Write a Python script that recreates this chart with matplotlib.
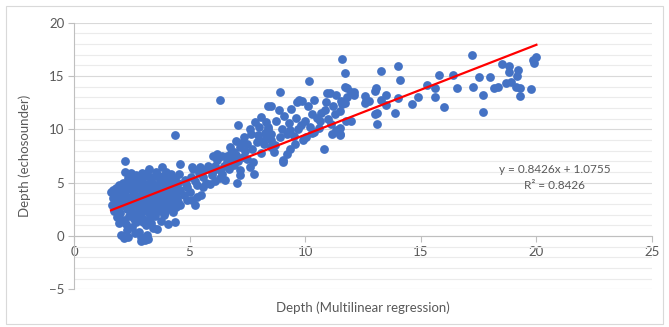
import matplotlib.pyplot as plt
from matplotlib.patches import Rectangle

# depth pairs: x = multilinear regression, y = echosounder
left_x = [1.6, 1.65, 1.7, 1.75, 1.8, 1.85, 1.9, 1.95, 2.0, 2.0, 2.05, 2.1, 2.1, 2.15, 2.2, 2.2, 2.2, 2.25,
          2.3, 2.3, 2.35, 2.35, 2.4, 2.4, 2.45, 2.5, 2.5, 2.55, 2.6, 2.6, 2.65, 2.7, 2.7, 2.75, 2.8, 2.8,
          2.85, 2.9, 2.9, 2.95, 3.0, 3.0, 3.05, 3.05, 3.1, 3.1, 3.15, 3.2, 3.2, 3.25, 3.25, 3.3, 3.35, 3.4,
          3.4, 3.45, 3.5, 3.5, 3.55, 3.6, 3.6, 3.65, 3.7, 3.7, 3.75, 3.8, 3.8, 3.85, 3.9, 3.9, 3.95, 4.0,
          4.0, 4.05, 4.1, 4.1, 4.15, 4.2, 4.25, 4.3, 4.3, 4.37, 4.37, 4.4, 4.45, 4.5, 4.55, 4.6, 4.6, 4.6,
          1.7, 1.8, 1.9, 2.0, 2.1, 2.2, 2.3, 2.3, 2.4, 2.5, 2.5, 2.6, 2.6, 2.7, 2.7, 2.8, 2.8, 2.9, 2.9,
          3.0, 3.0, 3.1, 3.1, 3.2, 3.2, 3.3, 3.3, 3.4, 3.4, 3.5, 3.5, 3.6, 3.6, 3.7, 3.8, 3.9, 4.0, 4.1,
          4.2, 4.2, 4.3, 4.4, 4.5, 1.75, 1.95, 2.05, 2.25, 2.45, 2.55, 2.65, 2.75, 2.85, 2.95, 3.05, 3.15,
          3.15, 3.35, 3.45, 3.55, 3.65, 3.75, 3.85, 3.95, 4.05, 4.15, 4.25, 4.35, 4.45, 2.16, 2.9, 3.2]
left_y = [4.1, 2.9, 3.6, 2.4, 4.5, 1.8, 3.1, 1.2, 4.0, 2.2, 0.1, 3.5, 5.0, 1.5, 7.0, 6.0, 2.8, 4.3,
          0.6, 3.2, -0.05, 5.4, 1.9, 4.7, 2.5, 3.8, 0.9, 5.1, 2.1, 3.0, 4.4, 1.3, 5.7, 3.4, 2.6, 0.4,
          4.9, -0.05, 3.9, 1.7, 5.5, 2.9, -0.35, 4.2, 1.0, 3.3, 5.9, 2.3, 4.6, 6.3, 1.6, 3.6, 5.2, 2.7,
          0.8, 4.0, 5.6, 1.9, 3.1, 0.7, 4.8, 2.4, 5.3, 3.7, 1.4, 6.5, 4.3, 2.9, 5.0, 2.0, 3.5, 4.6,
          6.0, 1.1, 3.9, 5.5, 2.6, 4.2, 3.1, 2.3, 5.1, 9.45, 1.35, 4.6, 3.6, 3.2, 5.8, 2.9, 6.8, 4.3,
          4.3, 3.3, 2.6, 3.7, 4.6, 3.9, 2.5, 4.9, 3.6, 5.6, 2.8, 1.6, 4.0, 3.1, 2.1, 5.3, 3.7, 4.5, 2.3,
          3.5, 1.3, 4.9, 2.6, 3.0, 5.6, 4.3, 2.0, 3.3, 4.9, 2.9, 4.4, 3.5, 5.8, 2.7, 3.2, 4.1, 2.8, 4.8,
          3.5, 5.8, 4.0, 2.7, 5.0, 3.9, 4.8, 2.9, 1.1, 5.9, 4.2, 0.3, 4.7, 1.9, 5.9, 3.8, 0.1,
          4.4, 1.2, 2.3, 6.0, 4.1, 3.0, 5.6, 2.3, 5.2, 3.3, 4.5, 5.4, 4.1, -0.2, -0.5, -0.3]

mid_x = [4.85, 4.9, 4.75, 5.1, 5.25, 5.05, 5.15, 5.1, 5.25, 5.6, 5.6, 5.55, 5.75, 5.95, 6.1, 6.3, 6.0,
         6.2, 6.2, 6.4, 6.6, 6.3, 6.75, 6.9, 7.0, 7.2, 7.3, 7.05, 7.2, 7.2, 7.6, 7.75, 7.8, 7.65, 7.95,
         8.0, 8.25, 7.1, 7.85, 8.4, 8.5, 8.65, 8.1, 4.8, 5.0, 5.3, 5.4, 5.5, 5.7, 5.8, 5.9, 6.0, 6.1,
         6.3, 6.4, 6.5, 6.6, 6.7, 6.8, 6.9, 7.0, 7.1, 7.3, 7.4, 7.5, 7.5, 7.7, 7.9, 8.0, 8.2, 8.3, 8.4,
         8.3, 8.5, 5.3, 4.9, 5.45, 6.55, 6.8, 7.35, 7.6, 8.1]
mid_y = [4.9, 4.6, 3.85, 3.35, 2.9, 5.55, 6.3, 6.5, 5.2, 4.6, 5.55, 6.2, 6.3, 5.7, 5.2, 5.4, 7.55,
         7.1, 7.7, 7.55, 6.95, 12.8, 8.35, 7.9, 8.95, 8.35, 8.8, 5.0, 5.75, 6.15, 6.5, 6.95, 5.85, 9.6, 9.45,
         10.2, 9.7, 10.4, 10.7, 12.15, 8.35, 7.9, 7.8, 5.3, 4.1, 4.8, 5.9, 3.9, 5.0, 6.6, 4.9, 6.1, 6.6,
         6.2, 5.8, 6.6, 7.5, 6.3, 7.1, 6.7, 7.6, 7.0, 7.4, 8.0, 7.2, 8.6, 8.2, 8.8, 9.0, 8.6, 9.3, 10.0,
         10.7, 9.6, 3.7, 3.4, 6.5, 5.3, 7.8, 9.3, 10.0, 11.2]

upper_x = [8.85, 8.9, 8.5, 9.4, 9.65, 9.85, 9.75, 10.15, 10.9, 11.2, 11.6, 11.5, 10.85, 10.3, 10.5, 9.6,
           8.75, 8.4, 9.8, 10.65, 11.0, 11.35, 11.5, 9.35, 9.2, 9.9, 10.05, 10.3, 9.55, 9.35, 9.2, 9.05,
           9.05, 8.5, 8.7, 8.9, 10.8, 10.95, 11.35, 11.07, 11.8, 11.6, 11.7, 11.8, 11.7, 11.55, 11.7, 11.5,
           11.5, 12.0, 12.0, 9.0, 9.3, 9.5, 9.7, 10.0, 10.2, 10.4, 10.6, 10.7, 11.1, 11.3, 10.1, 9.1,
           10.4, 11.15]
upper_y = [11.8, 13.55, 12.2, 11.9, 12.6, 12.7, 12.75, 14.5, 12.55, 12.2, 12.4, 11.75, 11.8, 11.4, 11.1, 11.1,
           10.8, 10.2, 10.4, 10.8, 11.0, 9.9, 9.45, 9.9, 9.6, 9.0, 9.3, 9.7, 8.65, 8.2, 7.7, 7.1,
           6.95, 9.0, 8.5, 9.3, 8.2, 13.4, 13.2, 13.4, 13.0, 16.6, 15.3, 13.9, 14.0, 12.7, 12.5, 10.1,
           9.6, 10.8, 13.5, 10.0, 10.6, 9.4, 10.0, 10.8, 10.2, 9.8, 10.1, 11.5, 10.5, 11.4, 12.2, 11.3,
           12.8, 9.6]

right_x = [17.2, 13.3, 14.0, 14.1, 15.8, 16.4, 16.55, 15.6, 15.25, 15.6, 16.0, 14.9, 14.6, 14.0, 13.9,
           13.5, 13.5, 13.3, 13.1, 13.1, 13.0, 13.05, 12.6, 12.6, 12.75, 12.1, 12.1, 11.75, 12.65, 13.0,
           17.25, 17.5, 17.7, 17.7, 18.0, 18.15, 18.35, 18.5, 18.8, 18.8, 19.2, 19.15, 18.7, 18.9, 19.1,
           19.3, 19.3, 19.75, 19.85, 20.0, 19.9]
right_y = [17.0, 15.5, 15.9, 14.6, 15.1, 15.1, 13.9, 13.9, 14.2, 13.0, 12.1, 13.0, 12.4, 12.9, 11.5,
           13.2, 12.3, 12.8, 11.5, 10.5, 13.6, 13.9, 13.1, 12.5, 12.7, 13.5, 13.2, 10.8, 12.7, 11.4,
           14.0, 14.9, 13.2, 11.6, 14.9, 13.9, 14.0, 16.1, 15.9, 15.4, 15.6, 15.0, 14.3, 14.4, 14.0,
           13.9, 13.1, 13.8, 16.5, 16.8, 16.2]

x_all = left_x + mid_x + upper_x + right_x
y_all = left_y + mid_y + upper_y + right_y

# Excel linear trendline as printed on the chart
slope = 0.8426
intercept = 1.0755
r2 = 0.8426

plt.rcParams['font.family'] = ['Lato', 'DejaVu Sans']

fig = plt.figure(figsize=(6.69, 3.27), dpi=100)
fig.patches.append(Rectangle((0.009, 0.009), 0.982, 0.973, transform=fig.transFigure,
                             fill=False, edgecolor='#d9d9d9', linewidth=0.8))
ax = fig.add_axes([0.1106, 0.1147, 0.864, 0.816])

ax.scatter(x_all, y_all, s=40, color='#4472C4', zorder=3, linewidths=0)
xs = [min(x_all), max(x_all)]
ax.plot(xs, [slope * v + intercept for v in xs], color='#FF0000', linewidth=1.6, zorder=4)

ax.set_xlim(0, 25)
ax.set_ylim(-5, 20)
ax.set_xticks(range(0, 26, 5))
ax.set_yticks(range(-5, 21, 5))
ax.set_yticks(range(-5, 21, 1), minor=True)
ax.grid(which='major', axis='y', color='#d9d9d9', linewidth=0.8)
ax.grid(which='minor', axis='y', color='#ebebeb', linewidth=0.8)
ax.set_axisbelow(True)

for s in ['top', 'right']:
    ax.spines[s].set_visible(False)
ax.spines['bottom'].set_position(('data', 0))
ax.spines['bottom'].set_color('#bfbfbf')
ax.spines['left'].set_color('#bfbfbf')
ax.tick_params(axis='x', which='major', direction='out', length=4, color='#bfbfbf',
               labelcolor='#595959', labelsize=9.5, pad=3)
ax.tick_params(axis='y', which='major', direction='out', length=4, color='#bfbfbf',
               labelcolor='#595959', labelsize=9.5, pad=3)
ax.tick_params(axis='y', which='minor', length=0)

ax.set_xlabel('Depth (Multilinear regression)', color='#595959', fontsize=9.5)
ax.xaxis.set_label_coords(0.5, -0.045)
ax.set_ylabel('Depth (echosounder)', color='#595959', fontsize=9.5)
ax.yaxis.set_label_coords(-0.075, 0.5)

ax.text(20.8, 6.26, 'y = 0.8426x + 1.0755', ha='center', va='center', color='#595959', fontsize=8.5)
ax.text(20.8, 4.7, 'R\u00b2 = %.4f' % r2, ha='center', va='center', color='#595959', fontsize=8.5)

fig.savefig('out.png', dpi=100)
